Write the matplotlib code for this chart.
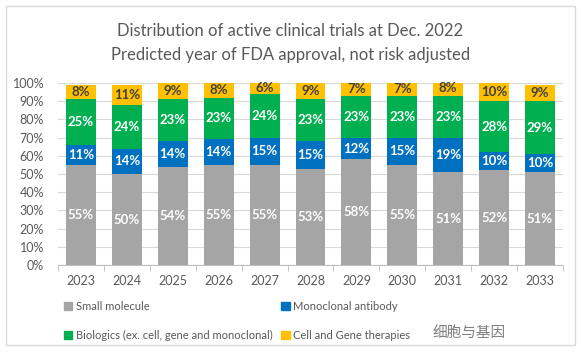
import matplotlib
matplotlib.use("Agg")
import matplotlib.pyplot as plt
from matplotlib.patches import Rectangle, Patch
import numpy as np

years = ["2023", "2024", "2025", "2026", "2027", "2028", "2029", "2030", "2031", "2032", "2033"]
small_molecule = [55, 50, 54, 55, 55, 53, 58, 55, 51, 52, 51]
monoclonal = [11, 14, 14, 14, 15, 15, 12, 15, 19, 10, 10]
biologics = [25, 24, 23, 23, 24, 23, 23, 23, 23, 28, 29]
cell_gene = [8, 11, 9, 8, 6, 9, 7, 7, 8, 10, 9]

series_names = ["Small molecule", "Monoclonal antibody",
                "Biologics (ex. cell, gene and monoclonal)", "Cell and Gene therapies"]
kleuren = ["#A5A5A5", "#0070C0", "#00B050", "#FFC000"]
tekstkleuren = ["white", "white", "white", "#404040"]

plt.rcParams["font.family"] = ["Lato", "DejaVu Sans"]

fig = plt.figure(figsize=(5.81, 3.57), dpi=100)
W, H = 581, 357

# kader om de grafiek
fig.patches.append(Rectangle((6 / W, 1 - 345 / H), 569 / W, 339 / H,
                             transform=fig.transFigure, fill=False,
                             edgecolor="#D9D9D9", linewidth=1))

ax = fig.add_axes([58 / W, 1 - 265 / H, 505 / W, 182 / H])

x = np.arange(len(years))
onder = np.zeros(len(years))
for reeks, kleur, tk in zip([small_molecule, monoclonal, biologics, cell_gene], kleuren, tekstkleuren):
    waarden = np.array(reeks, dtype=float)
    ax.bar(x, waarden, 0.65, bottom=onder, color=kleur, zorder=3)
    for xi, b, v in zip(x, onder, waarden):
        ax.text(xi, b + v / 2, f"{int(v)}%", ha="center", va="center",
                color=tk, fontsize=9.5, fontweight="bold", zorder=4)
    onder += waarden

ax.set_xlim(-0.5, len(years) - 0.5)
ax.set_ylim(0, 100)
ax.set_yticks(np.arange(0, 101, 10))
ax.set_yticklabels([f"{t}%" for t in range(0, 101, 10)], color="#595959", fontsize=9)
ax.set_xticks(x)
ax.set_xticklabels(years, color="#595959", fontsize=9)
ax.set_xticks(np.arange(-0.5, len(years), 1), minor=True)
ax.tick_params(axis="x", which="major", length=0, pad=7)
ax.tick_params(axis="x", which="minor", length=4, color="#BFBFBF")
ax.tick_params(axis="y", length=0, pad=10)
ax.grid(axis="y", color="#D9D9D9", linewidth=0.8, zorder=0)
for s in ["top", "right", "left"]:
    ax.spines[s].set_visible(False)
ax.spines["bottom"].set_color("#BFBFBF")

fig.text(0.5, 1 - 31 / H, "Distribution of active clinical trials at Dec. 2022",
         ha="center", va="center", fontsize=12, color="#595959")
fig.text(0.5, 1 - 55 / H, "Predicted year of FDA approval, not risk adjusted",
         ha="center", va="center", fontsize=12, color="#595959")

handles = [Patch(color=k) for k in kleuren]
volgorde = [0, 2, 1, 3]
fig.legend([handles[i] for i in volgorde], [series_names[i] for i in volgorde],
           ncol=2, loc="upper left", bbox_to_anchor=(54 / W, 1 - 291 / H),
           frameon=False, fontsize=8, handlelength=0.75, handleheight=0.75,
           handletextpad=0.3, columnspacing=0.8, labelspacing=1.6,
           labelcolor="#595959")

fig.text(506 / W, 1 - 333 / H, "细胞与基因", ha="right", va="center",
         fontsize=10.5, color="#7F7F7F", family=["Noto Sans CJK SC", "DejaVu Sans"])

fig.savefig("out.png", dpi=100)
